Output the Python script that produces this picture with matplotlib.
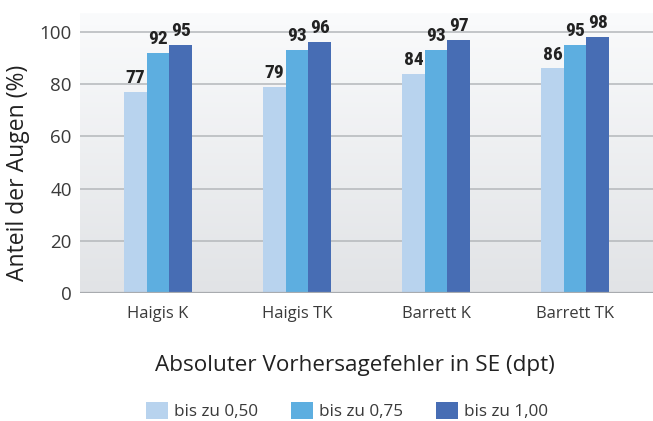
import numpy as np
import matplotlib as mpl
import matplotlib.pyplot as plt
from matplotlib import font_manager
from matplotlib.patches import Patch

# data
categories = ['Haigis K', 'Haigis TK', 'Barrett K', 'Barrett TK']
series_names = ['bis zu 0,50', 'bis zu 0,75', 'bis zu 1,00']
vals_050 = [77, 79, 84, 86]
vals_075 = [92, 93, 93, 95]
vals_100 = [95, 96, 97, 98]
y_ticks = [0, 20, 40, 60, 80, 100]

colors = ['#B8D3EE', '#5DAEE0', '#476DB4']
plt.rcParams['font.family'] = ['Open Sans', 'DejaVu Sans']

# narrow bold font for the value labels, if one is around
installed = {f.name for f in font_manager.fontManager.ttflist}
narrow = 'Roboto'
for name in ['Liberation Sans Narrow', 'Roboto Condensed', 'Open Sans Condensed',
             'DejaVu Sans Condensed']:
    if name in installed:
        narrow = name
        break

fig = plt.figure(figsize=(6.53, 4.21), dpi=100)
ax = fig.add_axes([80 / 653, 1 - 293 / 421, 1 - 80 / 653, 280 / 421])

x = np.arange(len(categories))
w = 0.163
ymax = 107.2

# background gradient in the plot area
grad = np.linspace(0, 1, 256).reshape(-1, 1)
top = np.array([250, 251, 252]) / 255
bot = np.array([225, 227, 230]) / 255
img = top * (1 - grad[..., None]) + bot * grad[..., None]
ax.imshow(img, extent=(-0.56, 3.56, 0, ymax), aspect='auto', zorder=0,
          origin='upper', interpolation='bilinear')

for v in y_ticks[1:]:
    ax.axhline(v, color='#B4B7BB', linewidth=1.1, zorder=1)
ax.axhline(0, color='#A8ABAF', linewidth=1.6, zorder=3)

for i, vals in enumerate([vals_050, vals_075, vals_100]):
    bars = ax.bar(x + (i - 1) * w, vals, width=w, color=colors[i], zorder=2,
                  linewidth=0)
    ax.bar_label(bars, padding=3.5, fontsize=14, fontweight='bold',
                 color='#222222', family=[narrow, 'DejaVu Sans'])

ax.set_xlim(-0.56, 3.56)
ax.set_ylim(0, ymax)
ax.set_yticks(y_ticks)
ax.set_xticks(x)
ax.set_xticklabels(categories)
ax.tick_params(axis='y', length=0, pad=6, labelsize=13.5, labelcolor='#3A3A3A')
ax.tick_params(axis='x', length=0, pad=9, labelsize=12, labelcolor='#3A3A3A')
for s in ax.spines.values():
    s.set_visible(False)

fig.text(18 / 653, 1 - 173 / 421, 'Anteil der Augen (%)', rotation=90,
         ha='center', va='center', fontsize=16.5, color='#222222')
fig.text(355 / 653, 1 - 366 / 421, 'Absoluter Vorhersagefehler in SE (dpt)',
         ha='center', va='center', fontsize=16.2, color='#222222')

handles = [Patch(facecolor=c, edgecolor='none') for c in colors]
fig.legend(handles, series_names, loc='center', bbox_to_anchor=(347 / 653, 1 - 411 / 421),
           ncol=3, frameon=False, fontsize=12.3, handlelength=1.3, handleheight=1.2,
           handletextpad=0.35, columnspacing=1.9, labelcolor='#3A3A3A')

fig.savefig('out.png', dpi=100)
